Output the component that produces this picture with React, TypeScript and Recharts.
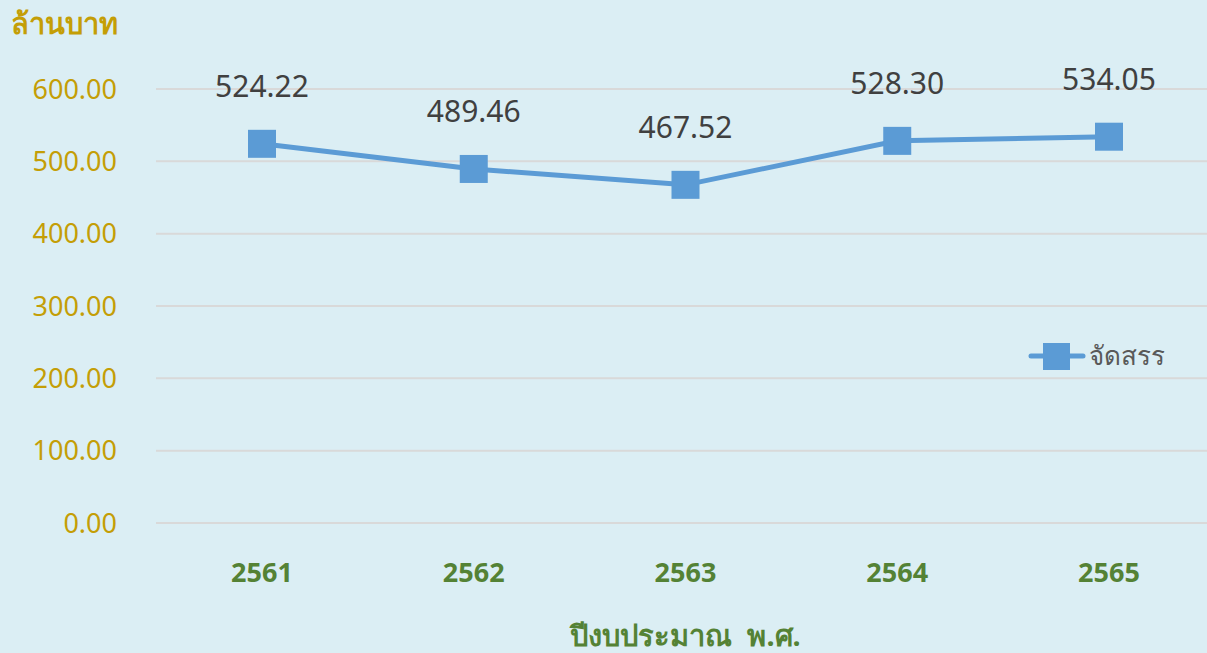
import React from 'react';
import { LineChart, Line, XAxis, YAxis, CartesianGrid, LabelList } from 'recharts';

const years = ['2561', '2562', '2563', '2564', '2565'];
const allocated = [524.22, 489.46, 467.52, 528.3, 534.05];
const yTicks = [0, 100, 200, 300, 400, 500, 600];
const seriesName = 'จัดสรร';
const yTitle = 'ล้านบาท';
const xTitle = 'ปีงบประมาณ\u00A0\u00A0พ.ศ.';

const data = years.map((y, i) => ({ year: y, value: allocated[i] }));

const FONT = '"Noto Sans", "DejaVu Sans", sans-serif';
const BLUE = '#5B9BD5';
const GOLD = '#C49E06';
const GREEN = '#548235';

const SquareDot = (props: any) => {
  const { cx, cy } = props;
  if (cx == null || cy == null) return null;
  return <rect x={cx - 14} y={cy - 14} width={28} height={28} fill={BLUE} />;
};

const ValueLabel = (props: any) => {
  const { x, y, value } = props;
  return (
    <text x={x} y={y - 47} textAnchor="middle" fill="#404040" fontSize={30} fontFamily={FONT}>
      {Number(value).toFixed(2)}
    </text>
  );
};

export default function App() {
  return (
    <div style={{ position: 'absolute', left: 0, top: 0, width: 1207, height: 653, overflow: 'hidden', background: '#DBEEF4' }}>
      <div style={{ position: 'absolute', left: 11, top: 1, color: GOLD, fontSize: 29, fontWeight: 700, fontFamily: FONT }}>
        {yTitle}
      </div>
      <LineChart width={1215} height={653} data={data} margin={{ top: 89, right: 0, bottom: 0, left: 0 }}>
        <CartesianGrid vertical={false} stroke="#D9D9D9" strokeWidth={2} />
        <XAxis
          dataKey="year"
          axisLine={false}
          tickLine={false}
          height={130}
          padding={{ left: 106, right: 106 }}
          tick={{ fill: GREEN, fontSize: 27, fontWeight: 700, fontFamily: FONT }}
          tickMargin={34}
          label={(p: any) => {
            const vb = p.viewBox;
            return (
              <text x={vb.x + vb.width / 2} y={646} textAnchor="middle" fill={GREEN} fontSize={29} fontWeight={700} fontFamily={FONT}>
                {xTitle}
              </text>
            );
          }}
        />
        <YAxis
          domain={[0, 600]}
          ticks={yTicks}
          width={156}
          axisLine={false}
          tickLine={false}
          tickFormatter={(v: number) => v.toFixed(2)}
          tick={{ fill: GOLD, fontSize: 27, fontFamily: FONT }}
          tickMargin={33}
        />
        <Line
          type="linear"
          dataKey="value"
          name={seriesName}
          stroke={BLUE}
          strokeWidth={5}
          dot={<SquareDot />}
          activeDot={false}
          isAnimationActive={false}
        >
          <LabelList dataKey="value" content={<ValueLabel />} />
        </Line>
      </LineChart>
      <div style={{ position: 'absolute', left: 1027, top: 336 }}>
        <svg width={180} height={40}>
          <line x1={4} y1={20} x2={56} y2={20} stroke={BLUE} strokeWidth={5} strokeLinecap="round" />
          <rect x={16} y={7} width={27} height={27} fill={BLUE} />
          <text x={62} y={29} fill="#595959" fontSize={26} fontFamily={FONT}>{seriesName}</text>
        </svg>
      </div>
    </div>
  );
}
